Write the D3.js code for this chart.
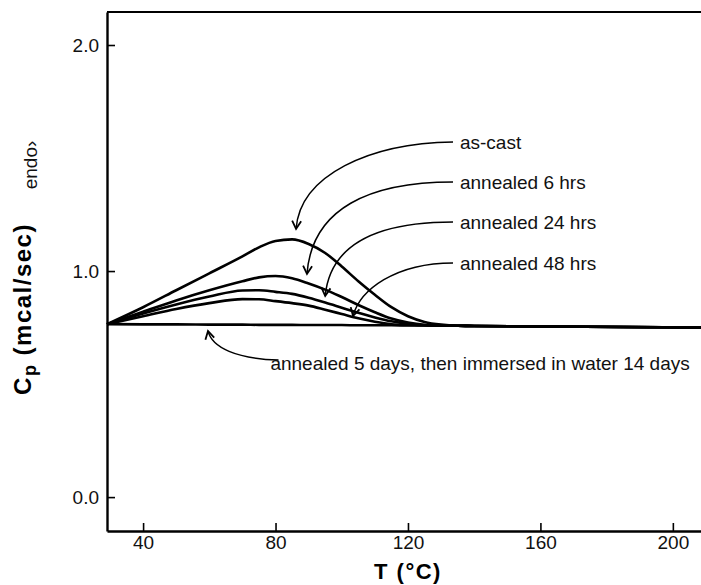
<!DOCTYPE html>
<html>
<head>
<meta charset="utf-8">
<script src="https://cdn.jsdelivr.net/npm/d3@7"></script>
<style>
  body { margin: 0; background: #fff; }
  svg { display: block; font-family: "Liberation Sans", Arial, sans-serif; }
</style>
</head>
<body>
<div id="chart"></div>
<script>
// temperatures (°C) shared by every trace
const temps = [29.1, 40, 50, 60, 70, 75, 80, 85, 90, 95, 100, 105, 110, 115, 120, 125, 130, 135, 140, 208.5]

// heat flow readings (mcal/sec) per sample
const asCast   = [0.765, 0.840, 0.915, 0.990, 1.065, 1.105, 1.133, 1.140, 1.120, 1.080, 1.020, 0.955, 0.895, 0.840, 0.800, 0.775, 0.763, 0.758, 0.757, 0.750]
const ann6hrs  = [0.765, 0.820, 0.870, 0.915, 0.955, 0.972, 0.978, 0.968, 0.945, 0.918, 0.885, 0.850, 0.818, 0.790, 0.772, 0.762, 0.759, 0.758, 0.757, 0.750]
const ann24hrs = [0.765, 0.812, 0.852, 0.887, 0.914, 0.915, 0.908, 0.899, 0.882, 0.861, 0.838, 0.815, 0.795, 0.778, 0.766, 0.760, 0.759, 0.758, 0.757, 0.750]
const ann48hrs = [0.765, 0.800, 0.832, 0.858, 0.876, 0.875, 0.867, 0.858, 0.847, 0.829, 0.810, 0.791, 0.776, 0.765, 0.761, 0.760, 0.759, 0.758, 0.757, 0.750]
const ann5days = [0.765, 0.764, 0.764, 0.763, 0.763, 0.762, 0.762, 0.762, 0.761, 0.761, 0.761, 0.760, 0.760, 0.760, 0.759, 0.759, 0.759, 0.758, 0.757, 0.750]

const seriesNames = ["as-cast", "annealed 6 hrs", "annealed 24 hrs", "annealed 48 hrs",
  "annealed 5 days, then immersed in water 14 days"]
const seriesValues = [asCast, ann6hrs, ann24hrs, ann48hrs, ann5days]

const xTicks = [40, 80, 120, 160, 200]
const yTicks = [0, 1, 2]

const width = 701
const height = 585

const x = d3.scaleLinear().domain([29.1, 208.5]).range([107, 701])
const y = d3.scaleLinear().domain([-0.150, 2.146]).range([531, 12])

const svg = d3.select("#chart")
  .append("svg")
  .attr("width", width)
  .attr("height", height)

svg.append("defs").append("marker")
  .attr("id", "head")
  .attr("viewBox", "-10 -6 12 12")
  .attr("refX", 0)
  .attr("refY", 0)
  .attr("markerWidth", 12)
  .attr("markerHeight", 12)
  .attr("markerUnits", "userSpaceOnUse")
  .attr("orient", "auto")
  .append("path")
  .attr("d", "M-8,-4.5 L0,0 L-8,4.5")
  .attr("fill", "none")
  .attr("stroke", "#000")
  .attr("stroke-width", 1.8)

// axes, ticks pointing inward
const yAxis = svg.append("g")
  .attr("transform", `translate(${x.range()[0]},0)`)
  .call(d3.axisLeft(y).tickValues(yTicks).tickFormat(d3.format(".1f"))
    .tickSize(-8).tickSizeOuter(0).tickPadding(8))

const xAxis = svg.append("g")
  .attr("transform", `translate(0,${y.range()[0]})`)
  .call(d3.axisBottom(x).tickValues(xTicks).tickFormat(d3.format("d"))
    .tickSize(-8).tickSizeOuter(0).tickPadding(5))

;[yAxis, xAxis].forEach(g => {
  g.select(".domain").attr("stroke-width", 2.4)
  g.selectAll(".tick line").attr("stroke-width", 1.6)
  g.selectAll(".tick text")
    .attr("font-family", "Liberation Sans, Arial, sans-serif")
    .attr("font-size", 19)
    .attr("fill", "#111")
})

// top frame line
svg.append("line")
  .attr("x1", x.range()[0]).attr("x2", x.range()[1])
  .attr("y1", y.range()[1]).attr("y2", y.range()[1])
  .attr("stroke", "#000")
  .attr("stroke-width", 2.2)

// traces
const line = d3.line()
  .x((d, i) => x(temps[i]))
  .y(d => y(d))
  .curve(d3.curveMonotoneX)

svg.selectAll(".trace")
  .data(seriesValues)
  .enter()
  .append("path")
  .attr("class", "trace")
  .attr("d", d => line(d))
  .attr("fill", "none")
  .attr("stroke", "#000")
  .attr("stroke-width", 2.6)

// label anchors and leader curves, in data units: [T, Cp]
const labelAt = [[135.7, 1.571], [135.7, 1.394], [135.7, 1.217], [135.7, 1.036], [205.1, 0.593]]
const leaders = [
  [[133.6, 1.571], [108.5, 1.566], [87.4, 1.425], [86.2, 1.186]],
  [[133.6, 1.394], [108.5, 1.394], [91.0, 1.279], [89.5, 0.987]],
  [[133.6, 1.217], [110.0, 1.217], [96.5, 1.115], [95.0, 0.890]],
  [[133.6, 1.036], [116.1, 1.036], [105.5, 0.916], [103.4, 0.801]],
  [[80.9, 0.606], [68.3, 0.612], [60.8, 0.660], [59.6, 0.735]]
]

svg.selectAll(".leader")
  .data(leaders)
  .enter()
  .append("path")
  .attr("class", "leader")
  .attr("d", d => {
    const p = d.map(q => [x(q[0]), y(q[1])])
    return `M${p[0]}C${p[1]} ${p[2]} ${p[3]}`
  })
  .attr("fill", "none")
  .attr("stroke", "#000")
  .attr("stroke-width", 1.5)
  .attr("marker-end", "url(#head)")

svg.selectAll(".label")
  .data(seriesNames)
  .enter()
  .append("text")
  .attr("class", "label")
  .attr("x", (d, i) => x(labelAt[i][0]))
  .attr("y", (d, i) => y(labelAt[i][1]))
  .attr("dy", "0.35em")
  .attr("text-anchor", (d, i) => i === 4 ? "end" : "start")
  .attr("font-size", 19)
  .attr("fill", "#111")
  .text(d => d)

// axis titles
svg.append("text")
  .attr("x", x(120))
  .attr("y", 579)
  .attr("text-anchor", "middle")
  .attr("font-size", 22)
  .attr("font-weight", "bold")
  .attr("letter-spacing", 1.5)
  .text("T (°C)")

const yTitle = svg.append("text")
  .attr("transform", "translate(31,309) rotate(-90)")
  .attr("text-anchor", "middle")
  .attr("font-size", 24)
  .attr("font-weight", "bold")
  .attr("letter-spacing", 1.5)
yTitle.append("tspan").text("C")
yTitle.append("tspan").attr("font-size", 18).attr("dy", 5).text("p")
yTitle.append("tspan").attr("dy", -5).text(" (mcal/sec)")

svg.append("text")
  .attr("transform", "translate(37,165) rotate(-90)")
  .attr("text-anchor", "middle")
  .attr("font-size", 19)
  .attr("fill", "#111")
  .text("endo›")
</script>
</body>
</html>
